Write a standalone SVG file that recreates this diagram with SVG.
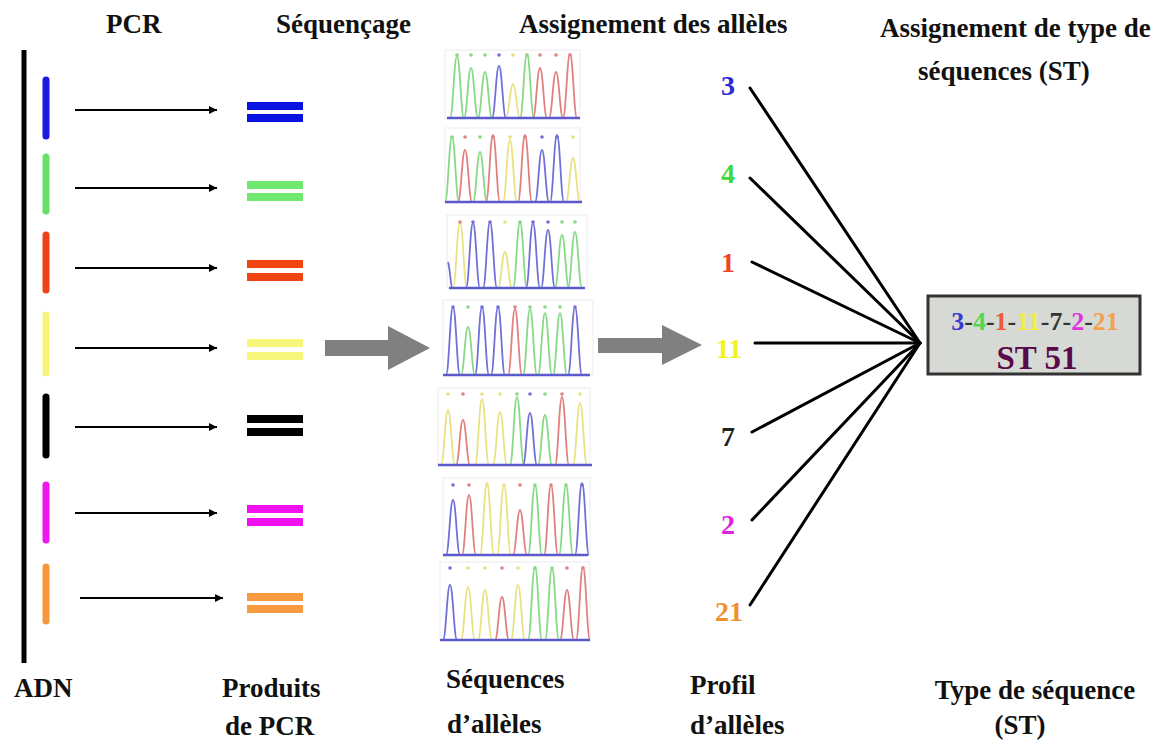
<svg xmlns="http://www.w3.org/2000/svg" width="1157" height="742" viewBox="0 0 1157 742">
  <style>
    .lbl { font-family: "Liberation Serif", "Times New Roman", serif; font-weight: bold; font-size: 27px; fill: #111; }
    .num { font-family: "Liberation Serif", "Times New Roman", serif; font-weight: bold; font-size: 28px; text-anchor: middle; }
    .arrow { stroke: #000; stroke-width: 2; fill: none; }
    .seg { stroke-width: 7; stroke-linecap: round; }
    .link { stroke: #000; stroke-width: 3; stroke-linecap: round; }
    .pk { fill: none; stroke-width: 1.8; stroke-linejoin: round; }
    .g { stroke: #86da86; } .r { stroke: #e28080; } .b { stroke: #7070d8; } .y { stroke: #e9e282; }
    .dg { fill: #86da86; } .dr { fill: #e28080; } .db { fill: #7070d8; } .dy { fill: #e9e282; }
    .base { stroke: #5a5acc; stroke-width: 2.5; }
    .frame { fill: none; stroke: #ececf2; stroke-width: 1; }
    .gray { fill: #808080; }
  </style>
  <defs>
    <marker id="head" viewBox="0 0 10 10" refX="10" refY="5" markerWidth="9" markerHeight="8" markerUnits="userSpaceOnUse" orient="auto">
      <path d="M0,0 L10,5 L0,10 z" fill="#000"/>
    </marker>
  </defs>
  <rect width="1157" height="742" fill="#fff"/>

  <!-- column headings -->
  <g id="headings">
    <text class="lbl" x="106" y="33">PCR</text>
    <text class="lbl" x="276" y="33">Séquençage</text>
    <text class="lbl" x="519" y="33">Assignement des allèles</text>
    <text class="lbl" x="880" y="37" font-size="26">Assignement de type de</text>
    <text class="lbl" x="918" y="80" font-size="26">séquences (ST)</text>
  </g>

  <!-- DNA strand with the seven loci -->
  <g id="adn">
    <line x1="24" y1="50" x2="24" y2="663" stroke="#000" stroke-width="5"/>
    <line class="seg" x1="46" y1="80" x2="46" y2="136" stroke="#1a1ae0"/>
    <line class="seg" x1="46" y1="157" x2="46" y2="211" stroke="#66e066"/>
    <line class="seg" x1="46" y1="235" x2="46" y2="290" stroke="#f04018"/>
    <line class="seg" x1="46" y1="315" x2="46" y2="373" stroke="#f5f57a"/>
    <line class="seg" x1="46" y1="397" x2="46" y2="455" stroke="#000"/>
    <line class="seg" x1="46" y1="485" x2="46" y2="540" stroke="#ee18ee"/>
    <line class="seg" x1="46" y1="567" x2="46" y2="621" stroke="#f7963c"/>
    <text class="lbl" x="14" y="697">ADN</text>
  </g>

  <!-- PCR amplification arrows -->
  <g id="pcr-arrows">
    <line class="arrow" x1="75" y1="110" x2="217" y2="110" marker-end="url(#head)"/>
    <line class="arrow" x1="75" y1="188" x2="217" y2="188" marker-end="url(#head)"/>
    <line class="arrow" x1="75" y1="268" x2="217" y2="268" marker-end="url(#head)"/>
    <line class="arrow" x1="75" y1="348" x2="217" y2="348" marker-end="url(#head)"/>
    <line class="arrow" x1="75" y1="427" x2="217" y2="427" marker-end="url(#head)"/>
    <line class="arrow" x1="75" y1="513" x2="217" y2="513" marker-end="url(#head)"/>
    <line class="arrow" x1="80" y1="598" x2="223" y2="598" marker-end="url(#head)"/>
  </g>

  <!-- PCR products -->
  <g id="produits">
    <rect x="247" y="102" width="56" height="8" fill="#0a14e0"/><rect x="247" y="114" width="56" height="8" fill="#0a14e0"/>
    <rect x="247" y="181" width="56" height="8" fill="#70e870"/><rect x="247" y="193" width="56" height="8" fill="#70e870"/>
    <rect x="247" y="260" width="56" height="8" fill="#f04412"/><rect x="247" y="273" width="56" height="8" fill="#f04412"/>
    <rect x="247" y="339" width="56" height="8" fill="#f7f77c"/><rect x="247" y="352" width="56" height="8" fill="#f7f77c"/>
    <rect x="247" y="415" width="56" height="8" fill="#000"/><rect x="247" y="428" width="56" height="8" fill="#000"/>
    <rect x="247" y="505" width="56" height="8" fill="#f010f0"/><rect x="247" y="518" width="56" height="8" fill="#f010f0"/>
    <rect x="247" y="593" width="56" height="8" fill="#f79a40"/><rect x="247" y="605" width="56" height="8" fill="#f79a40"/>
    <text class="lbl" x="222" y="697">Produits</text>
    <text class="lbl" x="225" y="735">de PCR</text>
  </g>

  <!-- sequencing arrow -->
  <g id="fleche-sequencage">
    <path class="gray" d="M325,340 H388 V326 L430,348 L388,370 V356 H325 z"/>
  </g>

  <!-- allele chromatograms -->
  <g id="chromatogrammes">
    <!-- trace 1 -->
    <rect class="frame" x="445" y="50" width="135" height="68"/>
    <path class="pk g" d="M450,118 c3,0 4,-62 7,-62 c3,0 4,62 7,62"/>
    <path class="pk g" d="M464,118 c3,0 4,-50 7,-50 c3,0 4,50 7,50"/>
    <path class="pk g" d="M478,118 c3,0 4,-46 7,-46 c3,0 4,46 7,46"/>
    <path class="pk b" d="M492,118 c3,0 4,-52 7,-52 c3,0 4,52 7,52"/>
    <path class="pk y" d="M506,118 c3,0 4,-34 7,-34 c3,0 4,34 7,34"/>
    <path class="pk g" d="M520,118 c3,0 4,-64 7,-64 c3,0 4,64 7,64"/>
    <path class="pk r" d="M533,118 c3,0 4,-50 7,-50 c3,0 4,50 7,50"/>
    <path class="pk r" d="M549,118 c3,0 4,-46 7,-46 c3,0 4,46 7,46"/>
    <path class="pk r" d="M563,118 c3,0 4,-64 7,-64 c3,0 4,64 7,64"/>
    <g><circle class="dg" cx="457" cy="55" r="1.8"/><circle class="dg" cx="471" cy="55" r="1.8"/><circle class="dg" cx="485" cy="55" r="1.8"/><circle class="db" cx="499" cy="55" r="1.8"/><circle class="dy" cx="513" cy="55" r="1.8"/><circle class="dg" cx="527" cy="55" r="1.8"/><circle class="dr" cx="540" cy="55" r="1.8"/><circle class="dr" cx="556" cy="55" r="1.8"/><circle class="dr" cx="570" cy="55" r="1.8"/></g>
    <line class="base" x1="447" y1="118" x2="580" y2="118"/>

    <!-- trace 2 -->
    <rect class="frame" x="445" y="128" width="135" height="74"/>
    <path class="pk g" d="M445,202 c3,0 4,-65 7,-65 c3,0 4,65 7,65"/>
    <path class="pk r" d="M458,202 c3,0 4,-52 7,-52 c3,0 4,52 7,52"/>
    <path class="pk g" d="M473,202 c3,0 4,-50 7,-50 c3,0 4,50 7,50"/>
    <path class="pk r" d="M486,202 c3,0 4,-67 7,-67 c3,0 4,67 7,67"/>
    <path class="pk y" d="M503,202 c3,0 4,-62 7,-62 c3,0 4,62 7,62"/>
    <path class="pk r" d="M518,202 c3,0 4,-67 7,-67 c3,0 4,67 7,67"/>
    <path class="pk b" d="M535,202 c3,0 4,-52 7,-52 c3,0 4,52 7,52"/>
    <path class="pk b" d="M550,202 c3,0 4,-67 7,-67 c3,0 4,67 7,67"/>
    <path class="pk y" d="M566,202 c3,0 4,-44 7,-44 c3,0 4,44 7,44"/>
    <g><circle class="dg" cx="452" cy="137" r="1.8"/><circle class="dr" cx="465" cy="137" r="1.8"/><circle class="dg" cx="480" cy="137" r="1.8"/><circle class="dr" cx="493" cy="137" r="1.8"/><circle class="dy" cx="510" cy="137" r="1.8"/><circle class="dr" cx="525" cy="137" r="1.8"/><circle class="db" cx="542" cy="137" r="1.8"/><circle class="db" cx="557" cy="137" r="1.8"/><circle class="dy" cx="573" cy="137" r="1.8"/></g>
    <line class="base" x1="445" y1="202" x2="582" y2="202"/>

    <!-- trace 3 -->
    <rect class="frame" x="447" y="215" width="140" height="73"/>
    <path class="pk b" d="M448,262 c2,6 3,26 4,26"/>
    <path class="pk y" d="M453,288 c3,0 4,-66 7,-66 c3,0 4,66 7,66"/>
    <path class="pk b" d="M466,288 c3,0 4,-65 7,-65 c3,0 4,65 7,65"/>
    <path class="pk b" d="M483,288 c3,0 4,-66 7,-66 c3,0 4,66 7,66"/>
    <path class="pk y" d="M498,288 c3,0 4,-36 7,-36 c3,0 4,36 7,36"/>
    <path class="pk g" d="M513,288 c3,0 4,-66 7,-66 c3,0 4,66 7,66"/>
    <path class="pk b" d="M526,288 c3,0 4,-65 7,-65 c3,0 4,65 7,65"/>
    <path class="pk b" d="M541,288 c3,0 4,-58 7,-58 c3,0 4,58 7,58"/>
    <path class="pk g" d="M555,288 c3,0 4,-53 7,-53 c3,0 4,53 7,53"/>
    <path class="pk g" d="M568,288 c3,0 4,-56 7,-56 c3,0 4,56 7,56"/>
    <g><circle class="dr" cx="460" cy="222" r="1.8"/><circle class="db" cx="473" cy="222" r="1.8"/><circle class="db" cx="490" cy="222" r="1.8"/><circle class="dy" cx="505" cy="222" r="1.8"/><circle class="dg" cx="520" cy="222" r="1.8"/><circle class="db" cx="533" cy="222" r="1.8"/><circle class="db" cx="548" cy="222" r="1.8"/><circle class="dg" cx="562" cy="222" r="1.8"/><circle class="dg" cx="575" cy="222" r="1.8"/></g>
    <line class="base" x1="449" y1="288" x2="585" y2="288"/>

    <!-- trace 4 -->
    <rect class="frame" x="443" y="300" width="150" height="75"/>
    <path class="pk b" d="M446,375 c3,0 4,-68 7,-68 c3,0 4,68 7,68"/>
    <path class="pk g" d="M461,375 c3,0 4,-48 7,-48 c3,0 4,48 7,48"/>
    <path class="pk b" d="M475,375 c3,0 4,-68 7,-68 c3,0 4,68 7,68"/>
    <path class="pk b" d="M491,375 c3,0 4,-68 7,-68 c3,0 4,68 7,68"/>
    <path class="pk r" d="M508,375 c3,0 4,-66 7,-66 c3,0 4,66 7,66"/>
    <path class="pk g" d="M523,375 c3,0 4,-66 7,-66 c3,0 4,66 7,66"/>
    <path class="pk g" d="M538,375 c3,0 4,-62 7,-62 c3,0 4,62 7,62"/>
    <path class="pk g" d="M553,375 c3,0 4,-62 7,-62 c3,0 4,62 7,62"/>
    <path class="pk b" d="M568,375 c3,0 4,-68 7,-68 c3,0 4,68 7,68"/>
    <g><circle class="db" cx="453" cy="307" r="1.8"/><circle class="dg" cx="468" cy="307" r="1.8"/><circle class="db" cx="482" cy="307" r="1.8"/><circle class="db" cx="498" cy="307" r="1.8"/><circle class="dr" cx="515" cy="307" r="1.8"/><circle class="dg" cx="530" cy="307" r="1.8"/><circle class="dg" cx="545" cy="307" r="1.8"/><circle class="dg" cx="560" cy="307" r="1.8"/><circle class="db" cx="575" cy="307" r="1.8"/></g>
    <line class="base" x1="443" y1="375" x2="590" y2="375"/>

    <!-- trace 5 -->
    <rect class="frame" x="438" y="388" width="152" height="77"/>
    <path class="pk y" d="M441,465 c3,0 4,-55 7,-55 c3,0 4,55 7,55"/>
    <path class="pk r" d="M456,465 c3,0 4,-45 7,-45 c3,0 4,45 7,45"/>
    <path class="pk y" d="M475,465 c3,0 4,-66 7,-66 c3,0 4,66 7,66"/>
    <path class="pk y" d="M493,465 c3,0 4,-53 7,-53 c3,0 4,53 7,53"/>
    <path class="pk g" d="M510,465 c3,0 4,-68 7,-68 c3,0 4,68 7,68"/>
    <path class="pk b" d="M523,465 c3,0 4,-52 7,-52 c3,0 4,52 7,52"/>
    <path class="pk g" d="M538,465 c3,0 4,-50 7,-50 c3,0 4,50 7,50"/>
    <path class="pk r" d="M555,465 c3,0 4,-68 7,-68 c3,0 4,68 7,68"/>
    <path class="pk y" d="M573,465 c3,0 4,-62 7,-62 c3,0 4,62 7,62"/>
    <g><circle class="dy" cx="448" cy="394" r="1.8"/><circle class="dr" cx="463" cy="394" r="1.8"/><circle class="dy" cx="482" cy="394" r="1.8"/><circle class="dy" cx="500" cy="394" r="1.8"/><circle class="dg" cx="517" cy="394" r="1.8"/><circle class="db" cx="530" cy="394" r="1.8"/><circle class="dg" cx="545" cy="394" r="1.8"/><circle class="dr" cx="562" cy="394" r="1.8"/><circle class="dy" cx="580" cy="394" r="1.8"/></g>
    <line class="base" x1="438" y1="465" x2="592" y2="465"/>

    <!-- trace 6 -->
    <rect class="frame" x="443" y="478" width="147" height="77"/>
    <path class="pk b" d="M446,555 c3,0 4,-55 7,-55 c3,0 4,55 7,55"/>
    <path class="pk r" d="M462,555 c3,0 4,-60 7,-60 c3,0 4,60 7,60"/>
    <path class="pk y" d="M480,555 c3,0 4,-72 7,-72 c3,0 4,72 7,72"/>
    <path class="pk y" d="M497,555 c3,0 4,-70 7,-70 c3,0 4,70 7,70"/>
    <path class="pk r" d="M513,555 c3,0 4,-45 7,-45 c3,0 4,45 7,45"/>
    <path class="pk g" d="M528,555 c3,0 4,-70 7,-70 c3,0 4,70 7,70"/>
    <path class="pk r" d="M544,555 c3,0 4,-70 7,-70 c3,0 4,70 7,70"/>
    <path class="pk g" d="M559,555 c3,0 4,-70 7,-70 c3,0 4,70 7,70"/>
    <path class="pk b" d="M575,555 c3,0 4,-72 7,-72 c3,0 4,72 7,72"/>
    <g><circle class="db" cx="453" cy="485" r="1.8"/><circle class="dr" cx="469" cy="485" r="1.8"/><circle class="dy" cx="487" cy="485" r="1.8"/><circle class="dy" cx="504" cy="485" r="1.8"/><circle class="dr" cx="520" cy="485" r="1.8"/><circle class="dg" cx="535" cy="485" r="1.8"/><circle class="dr" cx="551" cy="485" r="1.8"/><circle class="dg" cx="566" cy="485" r="1.8"/><circle class="db" cx="582" cy="485" r="1.8"/></g>
    <line class="base" x1="443" y1="555" x2="588" y2="555"/>

    <!-- trace 7 -->
    <rect class="frame" x="440" y="562" width="150" height="78"/>
    <path class="pk b" d="M443,640 c3,0 4,-55 7,-55 c3,0 4,55 7,55"/>
    <path class="pk y" d="M461,640 c3,0 4,-53 7,-53 c3,0 4,53 7,53"/>
    <path class="pk y" d="M478,640 c3,0 4,-50 7,-50 c3,0 4,50 7,50"/>
    <path class="pk r" d="M495,640 c3,0 4,-43 7,-43 c3,0 4,43 7,43"/>
    <path class="pk y" d="M511,640 c3,0 4,-55 7,-55 c3,0 4,55 7,55"/>
    <path class="pk g" d="M528,640 c3,0 4,-73 7,-73 c3,0 4,73 7,73"/>
    <path class="pk g" d="M545,640 c3,0 4,-72 7,-72 c3,0 4,72 7,72"/>
    <path class="pk r" d="M560,640 c3,0 4,-50 7,-50 c3,0 4,50 7,50"/>
    <path class="pk r" d="M576,640 c3,0 4,-73 7,-73 c3,0 4,73 7,73"/>
    <g><circle class="db" cx="450" cy="568" r="1.8"/><circle class="dy" cx="468" cy="568" r="1.8"/><circle class="dy" cx="485" cy="568" r="1.8"/><circle class="dr" cx="502" cy="568" r="1.8"/><circle class="dy" cx="518" cy="568" r="1.8"/><circle class="dg" cx="535" cy="568" r="1.8"/><circle class="dg" cx="552" cy="568" r="1.8"/><circle class="dr" cx="567" cy="568" r="1.8"/><circle class="dr" cx="583" cy="568" r="1.8"/></g>
    <line class="base" x1="440" y1="640" x2="590" y2="640"/>

    <text class="lbl" x="446" y="688">Séquences</text>
    <text class="lbl" x="447" y="733">d’allèles</text>
  </g>

  <!-- allele assignment arrow -->
  <g id="fleche-assignement">
    <path class="gray" d="M598,338 H662 V325 L702,345 L662,365 V353 H598 z"/>
  </g>

  <!-- allelic profile -->
  <g id="profil">
    <text class="num" x="728" y="95" fill="#2a2ad8">3</text>
    <text class="num" x="728" y="183" fill="#40d840">4</text>
    <text class="num" x="728" y="272" fill="#f04422">1</text>
    <text class="num" x="729" y="358" fill="#f2f222">11</text>
    <text class="num" x="728" y="446" fill="#222">7</text>
    <text class="num" x="728" y="534" fill="#e020e0">2</text>
    <text class="num" x="729" y="621" fill="#f09030">21</text>
    <text class="lbl" x="690" y="694">Profil</text>
    <text class="lbl" x="690" y="734">d’allèles</text>
  </g>

  <!-- links from alleles to the sequence type -->
  <g id="connecteurs">
    <line class="link" x1="750" y1="88" x2="920" y2="343"/>
    <line class="link" x1="750" y1="178" x2="920" y2="343"/>
    <line class="link" x1="752" y1="262" x2="920" y2="343"/>
    <line class="link" x1="755" y1="343" x2="920" y2="343"/>
    <line class="link" x1="752" y1="432" x2="920" y2="343"/>
    <line class="link" x1="752" y1="520" x2="920" y2="343"/>
    <line class="link" x1="750" y1="605" x2="920" y2="343"/>
  </g>

  <!-- sequence type box -->
  <g id="st">
    <rect x="928" y="296" width="212" height="78" fill="#d6d9d4" stroke="#333" stroke-width="3"/>
    <text x="1035" y="330" text-anchor="middle" font-family="Liberation Serif, serif" font-weight="bold" font-size="26" fill="#333"><tspan fill="#3a3ad0">3</tspan>-<tspan fill="#50d850">4</tspan>-<tspan fill="#f05a3a">1</tspan>-<tspan fill="#f0f040">11</tspan>-7-<tspan fill="#e030e0">2</tspan>-<tspan fill="#f5a050">21</tspan></text>
    <text x="1037" y="369" text-anchor="middle" font-family="Liberation Serif, serif" font-weight="bold" font-size="33" fill="#5a0a4a">ST 51</text>
    <text class="lbl" x="1035" y="699" text-anchor="middle">Type de séquence</text>
    <text class="lbl" x="1020" y="734" text-anchor="middle">(ST)</text>
  </g>
</svg>
